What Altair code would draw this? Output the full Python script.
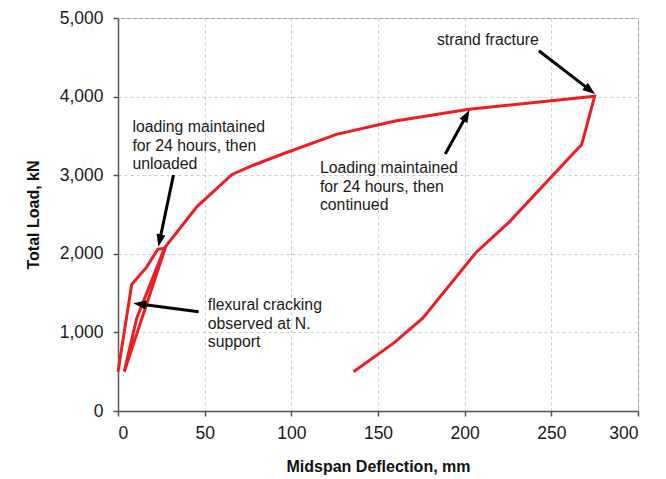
import math
import altair as alt
import pandas as pd

# ---- data ----
deflection_mm = [0, 7.9, 16.5, 23.0, 27.2, 3.6, 10.8, 27.0, 45.6, 65.8, 78.4, 93.8,
                 126.0, 160.0, 202.5, 275.0, 267.5, 225.5, 206.7, 175.8, 159.4, 135.9]
load_kN = [500, 1610, 1830, 2060, 2070, 500, 1180, 2080, 2600, 3010, 3130, 3260,
           3520, 3690, 3840, 4005, 3390, 2400, 2020, 1180, 870, 500]

note_text = ["loading maintained\nfor 24 hours, then\nunloaded",
             "Loading maintained\nfor 24 hours, then\ncontinued",
             "strand fracture",
             "flexural cracking\nobserved at N.\nsupport"]
note_x = [8.3, 116.5, 184.0, 51.8]
note_y = [3700, 3175, 4810, 1435]

arrow_x0 = [32.0, 188.8, 242.8, 46.5]
arrow_y0 = [3003, 3270, 4584, 1263]
arrow_x1 = [23.3, 202.8, 275.2, 8.9]
arrow_y1 = [2090, 3830, 4033, 1370]

x_ticks = [0, 50, 100, 150, 200, 250, 300]
y_ticks = list(range(0, 5001, 500))

# ---- layout ----
W, H = 520, 393
PX_X = W / 300.0
PX_Y = H / 5000.0
FONT = "Liberation Sans"
RED = "#EE1D23"

curve = pd.DataFrame({"x": deflection_mm, "y": load_kN, "order": range(len(load_kN))})
notes = pd.DataFrame({"x": note_x, "y": note_y, "t": note_text})

rows = []
for xa, ya, xb, yb in zip(arrow_x0, arrow_y0, arrow_x1, arrow_y1):
    dxp = (xb - xa) * PX_X
    dyp = -(yb - ya) * PX_Y  # screen y grows downward
    length = math.hypot(dxp, dyp)
    ang = math.degrees(math.atan2(dxp, -dyp)) % 360
    back = 8.0 / length
    rows.append({"x0": xa, "y0": ya,
                 "xe": xb - (xb - xa) * back, "ye": yb - (yb - ya) * back,
                 "xt": xb, "yt": yb, "ang": ang})
arrows = pd.DataFrame(rows)

xs = alt.Scale(domain=[0, 300], nice=False)
ys = alt.Scale(domain=[0, 5000], nice=False)

x_axis = alt.Axis(values=x_ticks, title="Midspan Deflection, mm", format=".0f",
                  grid=True, gridDash=[3, 3], gridColor="#cccccc",
                  labelOverlap=False, titlePadding=17, labelPadding=8)
y_axis = alt.Axis(values=y_ticks, title="Total Load, kN", format=",.0f",
                  grid=True, gridDash=[3, 3], gridColor="#cccccc",
                  labelOverlap=False, titlePadding=18, labelPadding=10)

line = alt.Chart(curve).mark_line(color=RED, strokeWidth=3, strokeJoin="miter").encode(
    x=alt.X("x:Q", scale=xs, axis=x_axis),
    y=alt.Y("y:Q", scale=ys, axis=y_axis),
    order="order:Q",
)

shafts = alt.Chart(arrows).mark_rule(color="black", strokeWidth=3).encode(
    x=alt.X("x0:Q", scale=xs), y=alt.Y("y0:Q", scale=ys),
    x2="xe:Q", y2="ye:Q",
)

heads = alt.Chart(arrows).mark_point(
    shape="M0,0 L-0.45,1.25 L0.45,1.25 Z", filled=True, color="black",
    size=400, opacity=1, strokeWidth=0,
).encode(
    x=alt.X("xt:Q", scale=xs), y=alt.Y("yt:Q", scale=ys),
    angle=alt.Angle("ang:Q", scale=None),
)

texts = alt.Chart(notes).mark_text(
    align="left", baseline="top", lineBreak="\n", fontSize=15.8,
    lineHeight=18.5, font=FONT, color="#1a1a1a",
).encode(
    x=alt.X("x:Q", scale=xs), y=alt.Y("y:Q", scale=ys), text="t:N",
)

chart = alt.layer(line, shafts, heads, texts).properties(
    width=W, height=H,
    autosize=alt.AutoSizeParams(type="none"),
    padding={"left": 118, "top": 18, "right": 10, "bottom": 68},
    background="white",
).configure_view(
    stroke="#a0a0a0", strokeWidth=1,
).configure_axis(
    domainColor="#555555", domainWidth=1.5, tickColor="#555555", tickSize=5,
    tickWidth=1.5, labelFont=FONT, labelFontSize=17.5, labelColor="#1a1a1a",
    titleFont=FONT, titleFontSize=16, titleFontWeight="bold", titleColor="#111111",
)

chart.save("out.html", embed_options={"renderer": "svg", "actions": False})
